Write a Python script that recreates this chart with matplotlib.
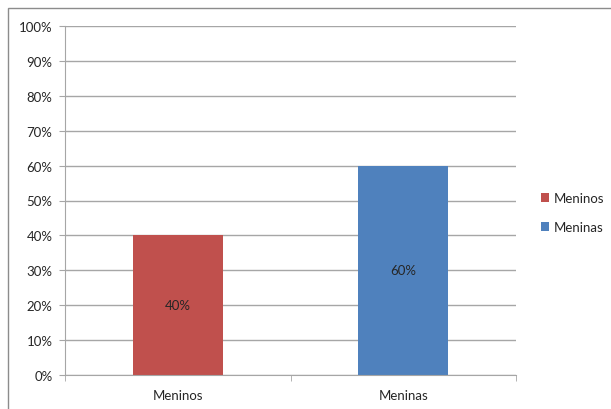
import numpy as np
import matplotlib.pyplot as plt
from matplotlib.patches import Rectangle
from matplotlib.ticker import PercentFormatter

categories = ['Meninos', 'Meninas']
values = [40, 60]
colors = ['#C0504D', '#4F81BD']
yticks = list(range(0, 101, 10))

plt.rcParams['font.family'] = ['Lato', 'DejaVu Sans']

fig = plt.figure(figsize=(6.11, 4.10), dpi=100)
W, H = 611, 410

# chart frame (top and left edges visible)
fig.patches.append(Rectangle((8 / W, -0.1), 1.0, 1.1 - 9 / H, transform=fig.transFigure,
                             fill=False, edgecolor='#8c8c8c', linewidth=1.0))

ax = fig.add_axes([65 / W, 1 - 376 / H, (516 - 65) / W, (376 - 27) / H])
x = np.arange(len(categories))
bars = ax.bar(x, values, width=0.40, color=colors, label=categories, zorder=2)

for b, v in zip(bars, values):
    ax.text(b.get_x() + b.get_width() / 2, v / 2, f'{v}%', ha='center', va='center',
            fontsize=9.5, color='#262626', zorder=3)

ax.set_xlim(-0.5, len(categories) - 0.5)
ax.set_ylim(0, 100)
ax.set_yticks(yticks)
ax.yaxis.set_major_formatter(PercentFormatter(decimals=0))
ax.grid(axis='y', color='#a6a6a6', linewidth=1.0, zorder=0)

ax.set_xticks(x)
ax.set_xticklabels(categories)
ax.set_xticks(np.arange(-0.5, len(categories)), minor=True)
ax.tick_params(axis='x', which='major', length=0, pad=10, labelsize=9.5, labelcolor='#262626')
ax.tick_params(axis='x', which='minor', length=4, color='#a6a6a6', direction='out')
ax.tick_params(axis='y', length=4, color='#a6a6a6', direction='out', labelsize=9.5,
               labelcolor='#262626', pad=5)

for s in ['top', 'right']:
    ax.spines[s].set_visible(False)
for s in ['left', 'bottom']:
    ax.spines[s].set_color('#a6a6a6')

ax.legend(loc='center left', bbox_to_anchor=(1.03, 0.465), frameon=False, fontsize=9.5,
          handlelength=0.6, handleheight=0.6, handletextpad=0.3, labelspacing=1.3,
          labelcolor='#262626')

fig.savefig('out.png', dpi=100)
